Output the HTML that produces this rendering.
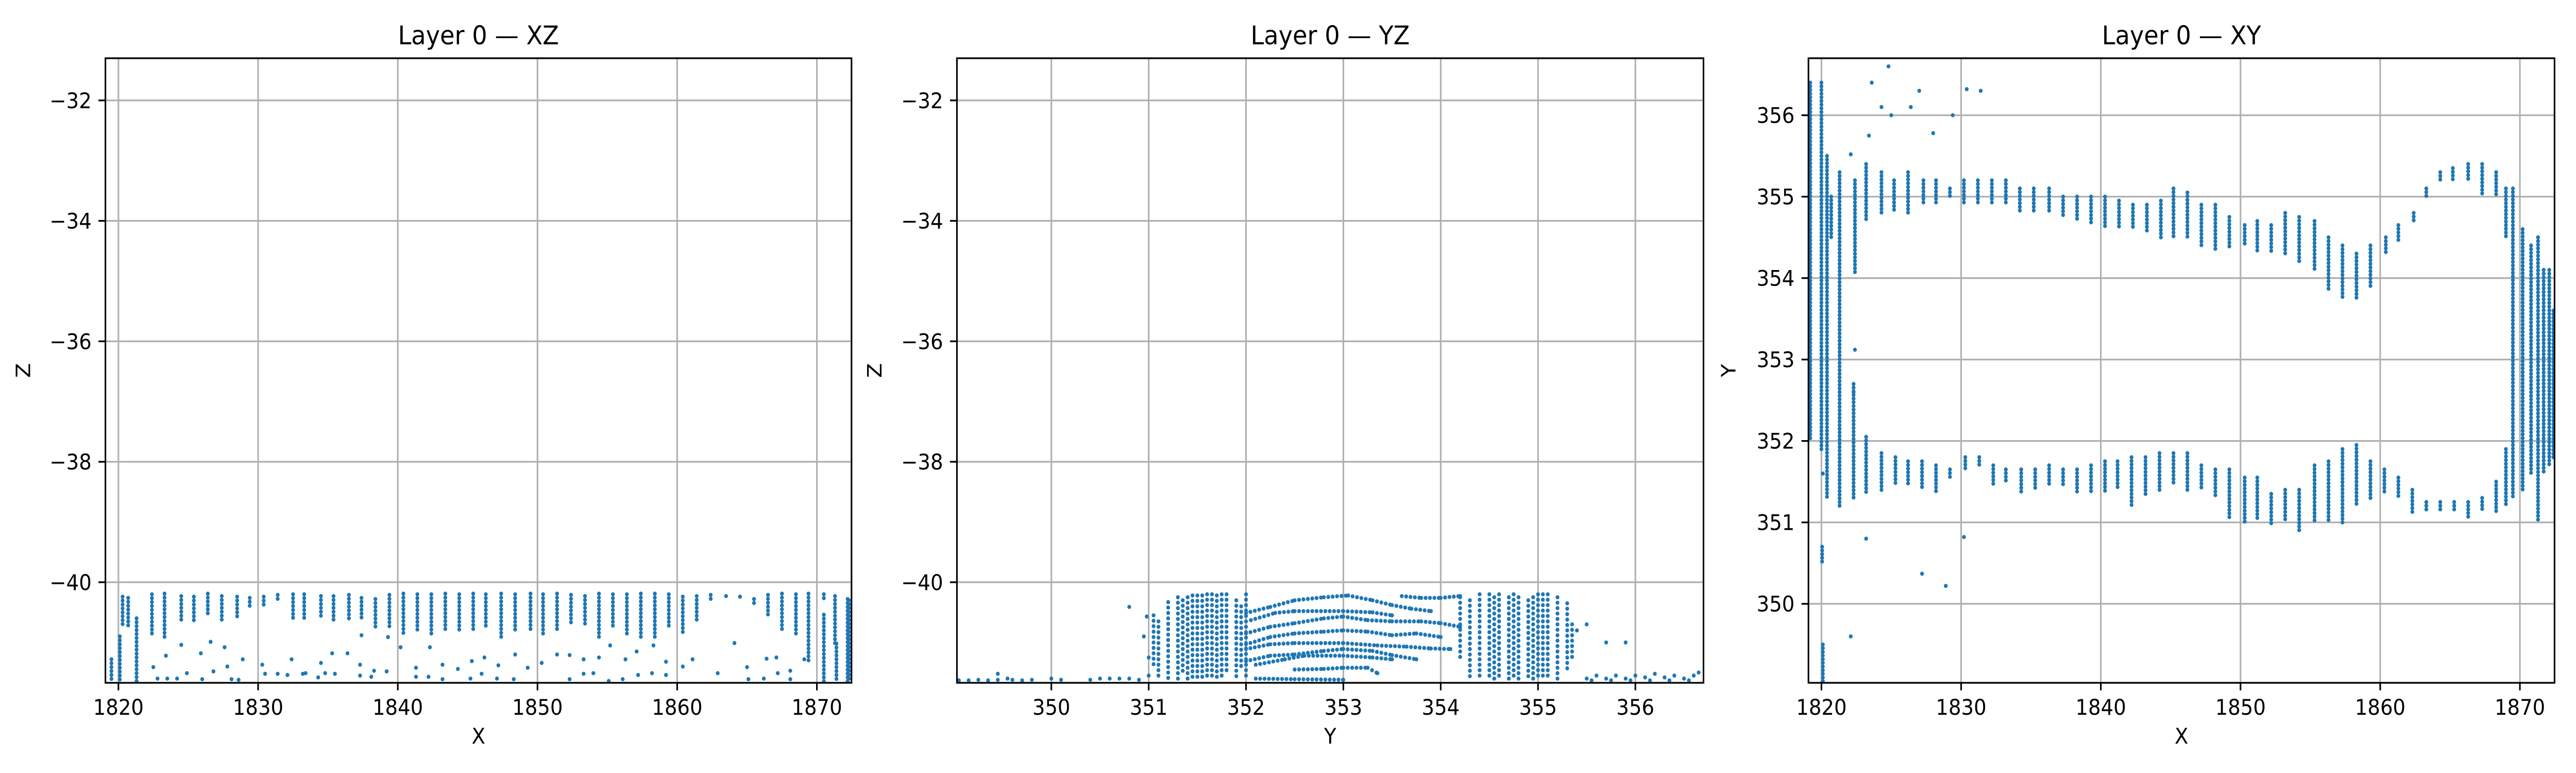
<!DOCTYPE html>
<html><head><meta charset="utf-8"><style>
html,body{margin:0;padding:0;background:#fff;overflow:hidden;width:100%;height:100%;}
svg{display:block;width:100vw;height:100vh;font-family:"DejaVu Sans","Liberation Sans",sans-serif;}
</style></head><body>
<svg id="fig" viewBox="0 0 5400 1500" preserveAspectRatio="none" xmlns="http://www.w3.org/2000/svg"></svg>
<script>
// ---------- axis limits & ticks ----------
const xLimX=[1819.07,1872.48], zLim=[-41.67,-31.30], yLim=[349.03,356.70];
const xTicks=[1820,1830,1840,1850,1860,1870];
const zTicks=[-40,-38,-36,-34,-32];
const yTicks=[350,351,352,353,354,355,356];
const panelTitles=["Layer 0 — XZ","Layer 0 — YZ","Layer 0 — XY"];

// ---------- XZ panel data: column strokes (x, zTop, zBottom) ----------
const xzColX=[1820.3,1820.7,1822.4,1823.3,1824.5,1825.4,1826.4,1827.4,1828.5,1829.4,1830.4,1831.4,1832.5,1833.3,1834.5,1835.4,1836.5,1837.4,1838.4,1839.4,1840.4,1841.4,1842.4,1843.4,1844.4,1845.4,1846.3,1847.4,1848.4,1849.5,1850.4,1851.4,1852.4,1853.4,1854.4,1855.4,1856.4,1857.4,1858.4,1859.4,1860.4,1861.4,1862.4,1863.5,1864.5,1865.5,1866.5,1867.5,1868.5,1869.4,1870.5,1871.3,1872.2,1821.3,1820.1,1819.5,1870.5,1871.4,1872.3];
const xzColTop=[-40.24,-40.26,-40.2,-40.19,-40.23,-40.24,-40.19,-40.23,-40.24,-40.26,-40.24,-40.21,-40.2,-40.2,-40.23,-40.23,-40.21,-40.26,-40.28,-40.21,-40.19,-40.2,-40.2,-40.19,-40.2,-40.19,-40.2,-40.19,-40.2,-40.19,-40.2,-40.19,-40.21,-40.23,-40.19,-40.2,-40.2,-40.19,-40.19,-40.2,-40.24,-40.23,-40.21,-40.23,-40.24,-40.28,-40.21,-40.19,-40.2,-40.19,-40.2,-40.23,-40.28,-40.6,-40.9,-41.28,-40.54,-41.02,-40.3];
const xzColBot=[-40.74,-40.74,-40.91,-40.91,-40.65,-40.63,-40.57,-40.63,-40.57,-40.4,-40.43,-40.33,-40.63,-40.63,-40.57,-40.63,-40.63,-40.63,-40.74,-40.74,-40.88,-40.82,-40.85,-40.8,-40.8,-40.82,-40.74,-40.91,-40.8,-40.8,-40.85,-40.82,-40.71,-40.74,-40.91,-40.74,-40.91,-40.94,-40.91,-40.77,-40.85,-40.65,-40.3,-40.26,-40.26,-40.4,-40.57,-40.8,-40.85,-41.3,-40.3,-41.02,-41.65,-41.65,-41.65,-41.65,-41.65,-41.65,-41.65];
// scattered lower points
const xzPtX=[1830.3,1831.4,1832.4,1833.4,1834.5,1835.3,1836.4,1837.3,1837.4,1838.3,1839.3,1840.2,1841.3,1842.3,1843.2,1844.3,1845.3,1846.2,1847.2,1848.4,1849.3,1850.3,1851.4,1852.3,1853.3,1854.4,1855.2,1856.3,1857.1,1858.3,1859.2,1860.4,1861.1,1862.9,1864.1,1865.0,1866.4,1867.1,1868.1,1869.1,1824.9,1825.9,1826.8,1827.8,1828.9,1822.5,1823.4,1824.5,1826.6,1827.6,1830.5,1832.1,1834.3,1837.3,1838.1,1839.2,1841.3,1842.2,1843.2,1845.2,1846.0,1847.1,1848.3,1852.3,1853.3,1854.0,1855.1,1856.1,1857.2,1858.2,1859.2,1865.1,1867.2,1868.1,1822.8,1823.5,1824.2,1826.0,1828.1,1828.6,1833.2,1834.8,1835.5,1866.2];
const xzPtZ=[-41.37,-41.52,-41.28,-41.51,-41.34,-41.18,-41.18,-41.37,-40.88,-41.47,-40.91,-41.08,-41.42,-41.08,-41.37,-41.44,-41.31,-41.25,-41.38,-41.2,-41.42,-41.34,-41.2,-41.21,-41.28,-41.25,-41.05,-41.28,-41.15,-41.05,-41.32,-41.4,-41.28,-41.51,-41.01,-41.41,-41.27,-41.25,-41.47,-41.28,-41.51,-41.18,-41.48,-41.4,-41.28,-41.41,-41.22,-41.04,-40.99,-41.08,-41.52,-41.54,-41.58,-41.55,-41.57,-41.48,-41.57,-41.57,-41.61,-41.6,-41.52,-41.6,-41.61,-41.61,-41.52,-41.51,-41.64,-41.61,-41.54,-41.51,-41.54,-41.61,-41.51,-41.61,-41.6,-41.6,-41.6,-41.61,-41.61,-41.62,-41.52,-41.51,-41.52,-41.6];

// ---------- YZ panel data ----------
const yzColY=[351.05,351.1,351.2,351.3,351.35,351.4,351.45,351.5,351.55,351.6,351.65,351.7,351.75,351.8,351.9,351.95,352.0,354.2,354.3,354.4,354.5,354.55,354.6,354.7,354.75,354.8,354.9,354.95,355.0,355.05,355.1,355.2,355.3,355.35];
const yzColTop=[-40.55,-40.65,-40.33,-40.25,-40.3,-40.25,-40.22,-40.22,-40.22,-40.2,-40.2,-40.22,-40.2,-40.2,-40.3,-40.4,-40.2,-40.25,-40.3,-40.2,-40.2,-40.25,-40.2,-40.25,-40.2,-40.25,-40.3,-40.25,-40.2,-40.2,-40.2,-40.25,-40.35,-40.7];
const yzColBot=[-41.4,-41.6,-41.62,-41.62,-41.55,-41.62,-41.62,-41.62,-41.6,-41.55,-41.6,-41.62,-41.55,-41.5,-41.6,-41.4,-41.62,-41.3,-41.62,-41.62,-41.55,-41.6,-41.62,-41.62,-41.6,-41.62,-41.62,-41.62,-41.62,-41.62,-41.62,-41.62,-41.5,-41.3];
const yzArcY=[[352.0,352.25,352.5,352.8,353.05,353.3,353.5,353.7,353.9],[352.05,352.3,352.5,353.0,353.3,353.5],[352.0,352.25,352.5,352.8,353.0,353.25,353.5,353.8,354.0,354.2],[352.0,352.25,352.5,352.8,353.0,353.25,353.5,353.75,354.0],[352.0,352.25,352.5,353.0,353.35,353.65,353.9,354.1],[352.0,352.25,352.5,352.8,353.0,353.3,353.5,353.75],[352.1,352.4,352.6,353.0,353.3,353.5],[352.5,352.8,353.0,353.25,353.35],[352.1,352.5,353.0],[353.6,353.8,354.0,354.2]];
const yzArcZ=[[-40.51,-40.41,-40.3,-40.25,-40.22,-40.3,-40.38,-40.44,-40.48],[-40.63,-40.51,-40.48,-40.48,-40.5,-40.55],[-40.85,-40.74,-40.68,-40.6,-40.57,-40.63,-40.65,-40.65,-40.68,-40.74],[-41.03,-40.91,-40.85,-40.82,-40.8,-40.82,-40.88,-40.85,-40.91],[-41.11,-41.03,-41.01,-41.01,-41.05,-41.07,-41.1,-41.11],[-41.31,-41.22,-41.2,-41.14,-41.11,-41.14,-41.21,-41.28],[-41.37,-41.28,-41.22,-41.22,-41.25,-41.28],[-41.45,-41.44,-41.42,-41.42,-41.51],[-41.6,-41.61,-41.62],[-40.23,-40.26,-40.26,-40.23]];
const yzFloorY=[349.05,349.15,349.25,349.35,349.45,349.55,349.6,349.7,349.8,350.0,350.1,350.4,350.5,350.6,350.7,350.8,350.9,351.0,355.5,355.6,355.7,355.8,355.9,356.0,356.1,356.2,356.3,356.4,356.5,356.6,356.65,355.55,355.75,355.95,356.15,356.35,356.55];
const yzFloorZ=[-41.63,-41.63,-41.62,-41.63,-41.62,-41.6,-41.62,-41.63,-41.62,-41.6,-41.62,-41.62,-41.6,-41.6,-41.6,-41.6,-41.62,-41.55,-41.6,-41.55,-41.6,-41.55,-41.6,-41.55,-41.58,-41.52,-41.58,-41.55,-41.6,-41.55,-41.5,-41.63,-41.63,-41.63,-41.63,-41.63,-41.63];
const yzPtY=[350.8,350.98,350.95,351.0,349.45,355.7,355.9,355.5,355.4];
const yzPtZ=[-40.41,-40.57,-40.9,-41.25,-41.52,-41.0,-41.0,-40.7,-40.8];

// ---------- XY panel data: column strokes (x, yTop, yBottom) ----------
const xyColX=[1822.4,1823.2,1824.3,1825.2,1826.2,1827.3,1828.2,1829.2,1830.2,1831.2,1832.2,1833.2,1834.2,1835.2,1836.3,1837.3,1838.3,1839.3,1840.3,1841.3,1842.3,1843.3,1844.3,1845.2,1846.2,1847.2,1848.2,1849.2,1850.3,1851.2,1852.2,1853.2,1854.2,1855.3,1856.3,1857.3,1858.3,1859.3,1860.4,1861.3,1862.4,1863.3,1864.3,1865.2,1866.3,1867.3,1868.3,1869.0,
1822.3,1823.2,1824.3,1825.3,1826.2,1827.2,1828.2,1829.2,1830.3,1831.3,1832.3,1833.2,1834.3,1835.3,1836.3,1837.3,1838.3,1839.3,1840.3,1841.2,1842.2,1843.2,1844.2,1845.2,1846.2,1847.2,1848.2,1849.2,1850.3,1851.2,1852.2,1853.2,1854.2,1855.3,1856.3,1857.3,1858.3,1859.3,1860.3,1861.3,1862.3,1863.3,1864.3,1865.3,1866.3,1867.3,1868.3,1869.0,
1869.5,1870.2,1870.8,1871.3,1871.7,1872.1,1872.4,1819.2,1820.0,1820.4,1821.3,1820.7,1820.05,1820.1];
const xyColTop=[355.2,355.4,355.3,355.2,355.3,355.2,355.2,355.1,355.2,355.2,355.2,355.2,355.1,355.1,355.1,355.0,355.0,355.0,355.0,354.95,354.9,354.9,354.95,355.1,355.05,354.9,354.9,354.75,354.65,354.7,354.65,354.8,354.75,354.7,354.5,354.4,354.3,354.4,354.5,354.65,354.8,355.1,355.3,355.35,355.4,355.4,355.3,355.1,
352.7,352.05,351.85,351.8,351.75,351.75,351.7,351.65,351.8,351.8,351.7,351.65,351.65,351.65,351.7,351.65,351.65,351.7,351.75,351.75,351.8,351.8,351.85,351.85,351.85,351.7,351.65,351.65,351.55,351.55,351.35,351.4,351.4,351.7,351.75,351.9,351.95,351.75,351.65,351.55,351.4,351.25,351.25,351.25,351.25,351.3,351.5,351.9,
355.1,354.6,354.4,354.5,354.1,354.1,353.6,356.4,356.4,355.5,355.3,355.0,350.7,349.5];
const xyColBot=[354.05,354.7,354.8,354.8,354.8,354.9,354.9,355.0,354.9,354.9,354.9,354.9,354.8,354.8,354.8,354.75,354.7,354.65,354.6,354.6,354.6,354.55,354.5,354.5,354.5,354.4,354.35,354.35,354.4,354.3,354.3,354.3,354.2,354.1,353.85,353.75,353.75,353.9,354.3,354.45,354.7,355.0,355.2,355.2,355.2,355.0,355.0,354.5,
351.3,351.35,351.4,351.45,351.45,351.4,351.35,351.55,351.65,351.7,351.45,351.5,351.35,351.4,351.45,351.45,351.35,351.35,351.35,351.4,351.2,351.35,351.4,351.45,351.4,351.4,351.3,351.05,351.0,351.05,350.95,351.0,350.9,351.0,351.0,351.0,351.2,351.3,351.35,351.3,351.1,351.15,351.15,351.15,351.05,351.15,351.1,351.2,
351.3,351.4,351.6,351.0,351.6,351.7,351.8,352.0,351.9,351.3,351.2,354.5,350.5,349.05];
const xyPtX=[1823.2,1827.2,1828.9,1822.1,1830.2,1830.4,1831.4,1826.4,1827.0,1828.0,1829.4,1823.4,1822.1,1822.4,1822.3,1820.1,1824.3,1825.0,1823.6,1824.8];
const xyPtY=[350.8,350.37,350.22,349.6,350.82,356.32,356.3,356.1,356.3,355.78,356.0,355.75,355.52,353.12,352.6,351.6,356.1,356.0,356.4,356.6];

// ---------- layout ----------
const panels=[
 {L:221,R:1785,xlim:xLimX,ylim:zLim,xt:xTicks,yt:zTicks,xl:"X",yl:"Z",ylx:63},
 {L:2006,R:3571,xlim:yLim,ylim:zLim,xt:yTicks,yt:zTicks,xl:"Y",yl:"Z",ylx:1848},
 {L:3791,R:5355,xlim:xLimX,ylim:yLim,xt:xTicks,yt:yTicks,xl:"X",yl:"Y",ylx:3638}
];
const T=113,B=1325,NS="http://www.w3.org/2000/svg";
const svg=document.getElementById('fig');
function mk(tag,attrs,parent){const e=document.createElementNS(NS,tag);for(const k in attrs)e.setAttribute(k,attrs[k]);(parent||svg).appendChild(e);return e;}
function fmt(v){return v<0?"\u2212"+Math.abs(v):String(v);}

const scales=panels.map((p,i)=>{
 const sx=v=>p.L+(v-p.xlim[0])/(p.xlim[1]-p.xlim[0])*(p.R-p.L);
 const sy=v=>B-(v-p.ylim[0])/(p.ylim[1]-p.ylim[0])*(B-T);
 const g=mk('g',{});
 
 
 const cp=mk('clipPath',{id:'clip'+i},g);
 mk('rect',{x:p.L,y:T,width:p.R-p.L,height:B-T},cp);
 const grid=mk('g',{stroke:'#b0b0b0','stroke-width':3.33},g);
 
 
 p.xt.forEach(v=>{const x=sx(v);mk('line',{x1:x,x2:x,y1:T,y2:B},grid);});
 p.yt.forEach(v=>{const y=sy(v);mk('line',{x1:p.L,x2:p.R,y1:y,y2:y},grid);});
 const pts=mk('g',{fill:'#1f77b4','clip-path':'url(#clip'+i+')'},g);
 
 
 const fr=mk('rect',{x:p.L,y:T,width:p.R-p.L,height:B-T,fill:'none',stroke:'#000','stroke-width':3.33},g);
 
 
 const xt=mk('g',{},g);
 
 
 p.xt.forEach(v=>{const x=sx(v);mk('line',{x1:x,x2:x,y1:B,y2:B+14.6,stroke:'#000','stroke-width':3.33},xt);
  const t=mk('text',{x:x,y:B+62,'font-size':41.7,'text-anchor':'middle'},xt);t.textContent=fmt(v);
  
  });
 const yt=mk('g',{},g);
 
 
 p.yt.forEach(v=>{const y=sy(v);mk('line',{x1:p.L-14.6,x2:p.L,y1:y,y2:y,stroke:'#000','stroke-width':3.33},yt);
  const t=mk('text',{x:p.L-29,y:y+15,'font-size':41.7,'text-anchor':'end'},yt);t.textContent=fmt(v);
  
  });
 const xl=mk('text',{x:(p.L+p.R)/2,y:B+118,'font-size':41.7,'text-anchor':'middle'},g);xl.textContent=p.xl;
 
 
 const yl=mk('text',{x:p.ylx,y:(T+B)/2,'font-size':41.7,'text-anchor':'middle',transform:'rotate(-90 '+p.ylx+' '+((T+B)/2)+')'},g);yl.textContent=p.yl;
 
 
 const tt=mk('text',{x:(p.L+p.R)/2,y:T-27,'font-size':50,'text-anchor':'middle'},g);tt.textContent=panelTitles[i];
 
 
 return {sx,sy,pts};
});

function dot(s,x,y){mk('circle',{cx:s.sx(x).toFixed(1),cy:s.sy(y).toFixed(1),r:4},s.pts);}
function cols(s,X,Top,Bot,step){
 for(let i=0;i<X.length;i++){const a=Math.max(Top[i],Bot[i]),b=Math.min(Top[i],Bot[i]);
  for(let v=a;v>=b-1e-9;v-=step)dot(s,X[i],v);}
}
function pts(s,X,Y){for(let i=0;i<X.length;i++)dot(s,X[i],Y[i]);}
function arcs(s,AY,AZ,step){
 for(let k=0;k<AY.length;k++){const ys=AY[k],zs=AZ[k];
  for(let j=0;j<ys.length-1;j++){for(let y=ys[j];y<ys[j+1]-1e-9;y+=step){const f=(y-ys[j])/(ys[j+1]-ys[j]);dot(s,y,zs[j]+f*(zs[j+1]-zs[j]));}}
  dot(s,ys[ys.length-1],zs[zs.length-1]);}
}
cols(scales[0],xzColX,xzColTop,xzColBot,0.065);
pts(scales[0],xzPtX,xzPtZ);
cols(scales[1],yzColY,yzColTop,yzColBot,0.09);
arcs(scales[1],yzArcY,yzArcZ,0.045);
pts(scales[1],yzFloorY,yzFloorZ);
pts(scales[1],yzPtY,yzPtZ);
cols(scales[2],xyColX,xyColTop,xyColBot,0.045);
pts(scales[2],xyPtX,xyPtY);
</script>
</body></html>
